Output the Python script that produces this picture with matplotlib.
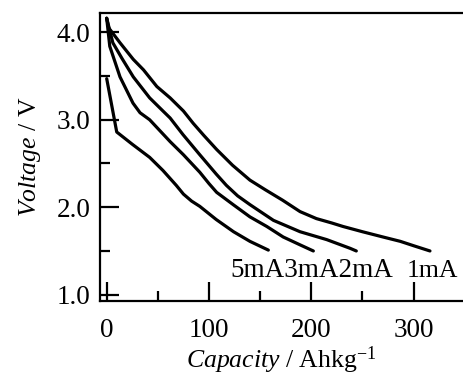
import matplotlib
matplotlib.use("Agg")
import matplotlib.pyplot as plt

plt.rcParams["font.family"] = ["Liberation Serif", "DejaVu Serif"]
plt.rcParams["mathtext.fontset"] = "custom"
plt.rcParams["mathtext.rm"] = "Liberation Serif"
plt.rcParams["mathtext.it"] = "Liberation Serif:italic"

# Discharge curves: capacity (Ah/kg) vs. voltage (V) at each current
cap_1mA = [0, 2, 13, 26, 36, 49, 62, 75, 84.5, 95, 107.5, 123, 140, 155, 172,
           189, 205, 220, 231, 250, 270, 287, 300, 316]
volt_1mA = [4.16, 4.05, 3.88, 3.69, 3.57, 3.38, 3.25, 3.10, 2.96, 2.82, 2.66,
            2.48, 2.31, 2.20, 2.08, 1.95, 1.87, 1.82, 1.78, 1.72, 1.66, 1.61,
            1.56, 1.50]

cap_2mA = [0, 6, 15, 26, 42, 55, 62, 74.6, 91, 107, 117, 128, 140, 163, 189,
           215, 238, 244]
volt_2mA = [4.16, 3.88, 3.70, 3.49, 3.25, 3.10, 3.02, 2.83, 2.60, 2.38, 2.25,
            2.13, 2.03, 1.85, 1.72, 1.63, 1.53, 1.50]

cap_3mA = [0, 3, 13, 25.7, 32.6, 42, 62, 75, 91, 100, 107.5, 123.6, 140,
           156.5, 172.5, 189, 202]
volt_3mA = [4.16, 3.84, 3.49, 3.19, 3.08, 3.00, 2.75, 2.60, 2.40, 2.27, 2.17,
            2.03, 1.89, 1.78, 1.66, 1.57, 1.50]

cap_5mA = [0, 9.8, 25, 42, 55, 68, 75, 83, 91, 107, 124, 140, 158]
volt_5mA = [3.47, 2.86, 2.72, 2.57, 2.42, 2.25, 2.15, 2.07, 2.01, 1.86, 1.72,
            1.61, 1.51]

# Current labels: the first three run together, 1mA stands apart
group_label = "5mA3mA2mA"
group_label_end = 280.0
single_label = "1mA"
single_label_end = 344.0
label_y = 1.2

x_major = [0, 100, 200, 300]
x_minor = [50, 150, 250]
y_major = [1.0, 2.0, 3.0, 4.0]
y_minor = [1.5, 2.5, 3.5]

fig = plt.figure(figsize=(4.63, 3.76), dpi=100)
ax = fig.add_axes([100 / 463, 75 / 376, 363 / 463, 287.7 / 376])

for c, v in [(cap_1mA, volt_1mA), (cap_2mA, volt_2mA),
             (cap_3mA, volt_3mA), (cap_5mA, volt_5mA)]:
    ax.plot(c, v, color="black", lw=2.3, solid_capstyle="round",
            solid_joinstyle="round")

ax.text(group_label_end, label_y, group_label, fontsize=19.5, ha="right",
        va="baseline")
ax.text(single_label_end, label_y, single_label, fontsize=18.5, ha="right",
        va="baseline")

ax.set_xlim(-6.55, 348.3)
ax.set_ylim(0.928, 4.217)

ax.set_xticks(x_major)
ax.set_xticks(x_minor, minor=True)
ax.set_yticks(y_major)
ax.set_yticks(y_minor, minor=True)
ax.set_yticklabels([f"{v:.1f}" for v in y_major])

ax.tick_params(which="major", direction="in", length=14, width=1.6,
               labelsize=19.5)
ax.tick_params(which="minor", direction="in", length=7, width=1.6)
ax.tick_params(axis="x", which="major", pad=12)
ax.tick_params(axis="y", which="major", pad=7)

ax.spines["right"].set_visible(False)
for s in ["left", "bottom", "top"]:
    ax.spines[s].set_linewidth(1.6)

ax.set_xlabel(r"$\mathit{Capacity}$ / Ahkg$^{\mathrm{-1}}$", fontsize=18.5,
              labelpad=1)
ax.set_ylabel(r"$\mathit{Voltage}$ / V", fontsize=18.5, labelpad=10)

fig.savefig("out.png", dpi=100)
